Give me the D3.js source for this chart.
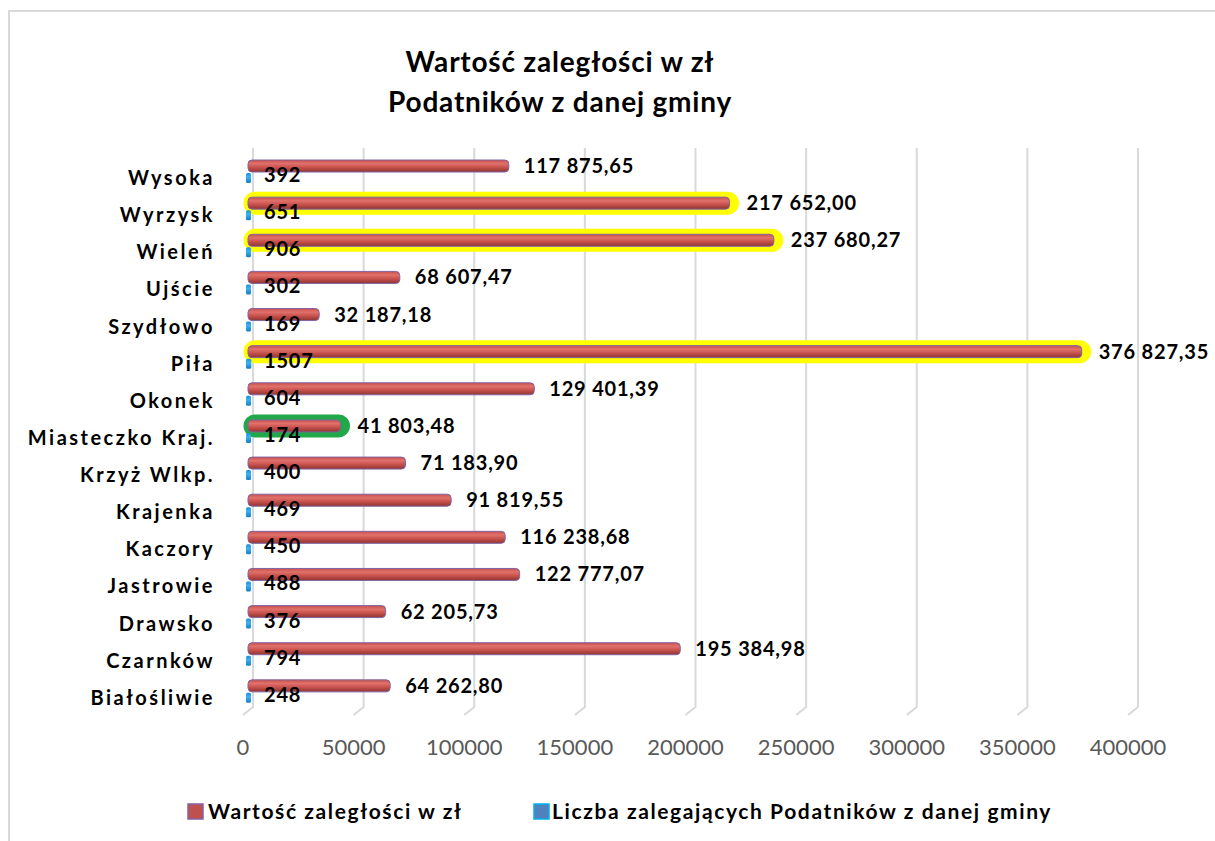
<!DOCTYPE html>
<html>
<head>
<meta charset="utf-8">
<script src="https://cdn.jsdelivr.net/npm/d3@7"></script>
<style>
  body { margin: 0; background: #fff; }
  svg { display: block; font-family: Lato, 'Open Sans', sans-serif; }
</style>
</head>
<body>
<svg id="chart" width="1215" height="841"></svg>
<script>
// data, top row first
const gminy = ['Wysoka', 'Wyrzysk', 'Wieleń', 'Ujście', 'Szydłowo', 'Piła', 'Okonek',
  'Miasteczko Kraj.', 'Krzyż Wlkp.', 'Krajenka', 'Kaczory', 'Jastrowie', 'Drawsko',
  'Czarnków', 'Białośliwie'];
const wartosc = [117875.65, 217652.00, 237680.27, 68607.47, 32187.18, 376827.35, 129401.39,
  41803.48, 71183.90, 91819.55, 116238.68, 122777.07, 62205.73, 195384.98, 64262.80];
const podatnicy = [392, 651, 906, 302, 169, 1507, 604, 174, 400, 469, 450, 488, 376, 794, 248];
const xTicks = [0, 50000, 100000, 150000, 200000, 250000, 300000, 350000, 400000];
const seriesNames = ['Wartość zaległości w zł', 'Liczba zalegających Podatników z danej gminy'];
const highlightYellow = ['Wyrzysk', 'Wieleń', 'Piła'];
const highlightGreen = ['Miasteczko Kraj.'];

const svg = d3.select('#chart');
const depth = 5; // fake 3d offset of the back wall

const x = d3.scaleLinear().domain([0, 400000]).range([248, 1133]);
const y = d3.scaleBand().domain(gminy).range([154, 711]);
const ySub = d3.scaleBand().domain(['v', 'n']).range([6, 30]);

const defs = svg.append('defs');
const grad = (id, stops) => {
  const g = defs.append('linearGradient').attr('id', id)
    .attr('x1', 0).attr('x2', 0).attr('y1', 0).attr('y2', 1);
  stops.forEach(s => g.append('stop').attr('offset', s[0]).attr('stop-color', s[1]));
};
grad('gRed', [[0, '#c9504c'], [0.3, '#e0716b'], [0.6, '#c9524d'], [1, '#8e3532']]);
grad('gBlue', [[0, '#1a8fd6'], [0.4, '#3fb2f0'], [1, '#137ec2']]);

// frame
svg.append('path').attr('d', 'M9,841 V11 H1215')
  .attr('fill', 'none').attr('stroke', '#d9d9d9').attr('stroke-width', 2);

// title
svg.append('text').attr('x', 560).attr('y', 72).attr('text-anchor', 'middle')
  .attr('font-size', 28).attr('font-weight', 'bold').attr('letter-spacing', 0.8)
  .text('Wartość zaległości w zł');
svg.append('text').attr('x', 560).attr('y', 112).attr('text-anchor', 'middle')
  .attr('font-size', 28).attr('font-weight', 'bold').attr('letter-spacing', 0.8)
  .text('Podatników z danej gminy');

// gridlines with a little floor bend
const grid = svg.append('g');
xTicks.forEach(t => {
  grid.append('path')
    .attr('d', `M${x(t) + depth},148 V707 L${x(t) - depth},715`)
    .attr('fill', 'none').attr('stroke', '#d9d9d9').attr('stroke-width', 2);
});

// x tick labels
svg.append('g').selectAll('text').data(xTicks).join('text')
  .attr('x', d => x(d) - depth).attr('y', 755).attr('text-anchor', 'middle')
  .attr('font-size', 22).attr('fill', '#595959').text(d => d);

// category labels
svg.append('g').selectAll('text').data(gminy).join('text')
  .attr('x', 215).attr('y', d => y(d) + 24).attr('dy', '0.35em')
  .attr('text-anchor', 'end').attr('font-size', 20).attr('font-weight', 'bold')
  .attr('letter-spacing', 2.5).text(d => d);

// highlight rings
const rings = svg.append('g');
const addRings = (list, color) => {
  rings.selectAll(null).data(list).join('rect')
    .attr('x', 245)
    .attr('y', d => y(d) + ySub('v') - 4)
    .attr('width', d => x(wartosc[gminy.indexOf(d)]) - 245 + 8)
    .attr('height', ySub.bandwidth() + 8)
    .attr('rx', 10)
    .attr('fill', color).attr('stroke', color).attr('stroke-width', 3);
};
addRings(highlightYellow, '#ffff00');
addRings(highlightGreen, '#21a849');

// red bars
svg.append('g').selectAll('rect').data(gminy).join('rect')
  .attr('x', x(0))
  .attr('y', d => y(d) + ySub('v'))
  .attr('width', (d, i) => x(wartosc[i]) - x(0))
  .attr('height', ySub.bandwidth())
  .attr('rx', 4)
  .attr('fill', 'url(#gRed)').attr('stroke', '#8064a2').attr('stroke-width', 1);

// blue bars
svg.append('g').selectAll('rect').data(gminy).join('rect')
  .attr('x', x(0) - 2)
  .attr('y', d => y(d) + ySub('n') + 1)
  .attr('width', (d, i) => Math.max(5, x(podatnicy[i]) - x(0) + 2))
  .attr('height', ySub.bandwidth() - 2)
  .attr('rx', 1.5)
  .attr('fill', 'url(#gBlue)');

// value labels
const fmt = v => {
  const [a, b] = v.toFixed(2).split('.');
  return a.replace(/\B(?=(\d{3})+(?!\d))/g, ' ') + ',' + b;
};
svg.append('g').selectAll('text').data(gminy).join('text')
  .attr('x', (d, i) => x(wartosc[i]) + (highlightYellow.includes(d) || highlightGreen.includes(d) ? 17 : 15))
  .attr('y', d => y(d) + ySub('v') + 6).attr('dy', '0.35em')
  .attr('font-size', 20).attr('font-weight', 'bold').attr('letter-spacing', 0.8)
  .text((d, i) => fmt(wartosc[i]));
svg.append('g').selectAll('text').data(gminy).join('text')
  .attr('x', 264)
  .attr('y', d => y(d) + ySub('n') + 3).attr('dy', '0.35em')
  .attr('font-size', 20).attr('font-weight', 'bold').attr('letter-spacing', 0.8)
  .text((d, i) => podatnicy[i]);

// legend
const leg = svg.append('g');
leg.append('rect').attr('x', 188).attr('y', 804).attr('width', 15).attr('height', 15)
  .attr('fill', '#c0504d').attr('stroke', '#8064a2').attr('stroke-width', 1.5);
leg.append('text').attr('x', 208).attr('y', 812).attr('dy', '0.35em')
  .attr('font-size', 21).attr('font-weight', 'bold').attr('letter-spacing', 1.6)
  .text(seriesNames[0]);
leg.append('rect').attr('x', 534).attr('y', 804).attr('width', 15).attr('height', 15)
  .attr('fill', '#4f81bd').attr('stroke', '#00b0f0').attr('stroke-width', 1.5);
leg.append('text').attr('x', 552).attr('y', 812).attr('dy', '0.35em')
  .attr('font-size', 21).attr('font-weight', 'bold').attr('letter-spacing', 1.6)
  .text(seriesNames[1]);
</script>
</body>
</html>
